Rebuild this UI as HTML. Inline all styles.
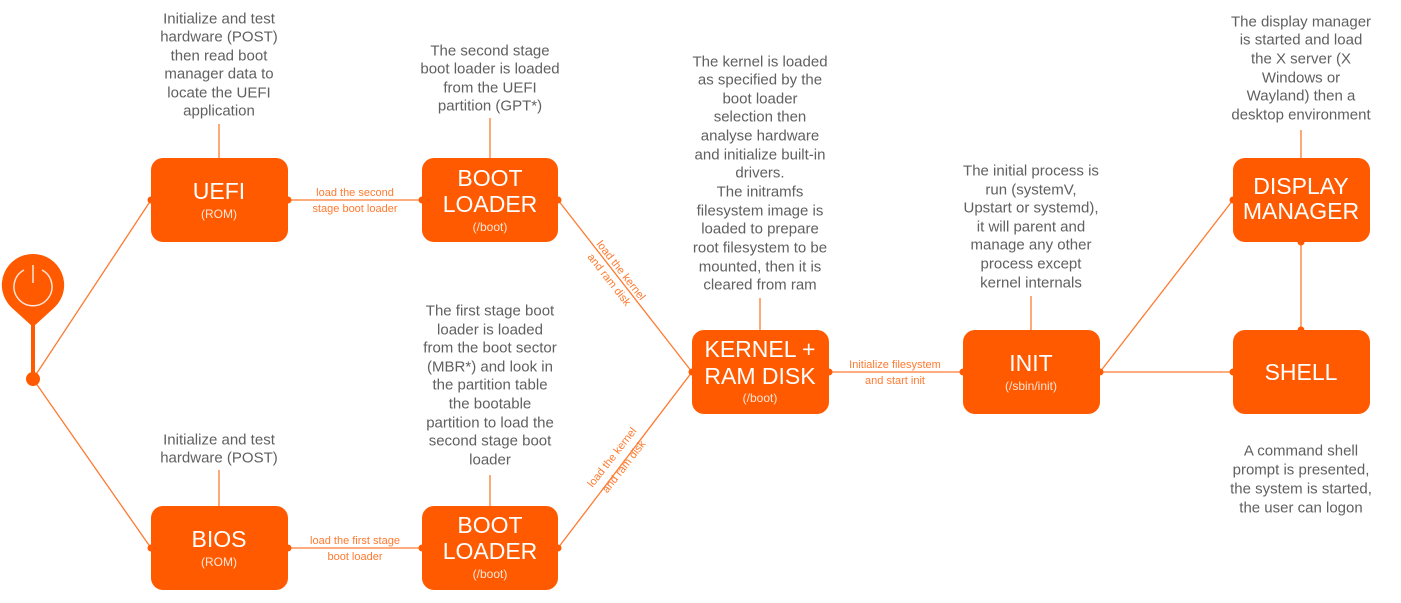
<!DOCTYPE html>
<html><head><meta charset="utf-8"><style>
html,body{margin:0;padding:0;background:#fff;}
svg{display:block;}
.t{font-family:"Liberation Sans",sans-serif;font-size:15px;fill:#606060;text-anchor:middle;dominant-baseline:central;}
.b{font-family:"Liberation Sans",sans-serif;font-size:23px;fill:#fff;text-anchor:middle;dominant-baseline:central;}
.s{font-family:"Liberation Sans",sans-serif;font-size:12px;fill:#ffe6d8;text-anchor:middle;dominant-baseline:central;}
.l{font-family:"Liberation Sans",sans-serif;font-size:11px;fill:#ff7a30;text-anchor:middle;dominant-baseline:central;}
</style></head><body>
<svg width="1401" height="603" viewBox="0 0 1401 603" xmlns="http://www.w3.org/2000/svg">
<g stroke="#ff7a30" stroke-width="1.3" fill="none">
<line x1="33" y1="379" x2="151" y2="200"/>
<line x1="33" y1="379" x2="151" y2="548"/>
<line x1="288" y1="200" x2="422" y2="200"/>
<line x1="288" y1="548" x2="422" y2="548"/>
<line x1="558" y1="200" x2="692" y2="372"/>
<line x1="558" y1="548" x2="692" y2="372"/>
<line x1="829" y1="372" x2="963" y2="372"/>
<line x1="1100" y1="372" x2="1233" y2="372"/>
<line x1="1100" y1="372" x2="1233" y2="200"/>
<line x1="1301" y1="242" x2="1301" y2="330"/>
<line x1="219" y1="124" x2="219" y2="158"/>
<line x1="490" y1="118" x2="490" y2="158"/>
<line x1="760" y1="298" x2="760" y2="330"/>
<line x1="1031" y1="296" x2="1031" y2="330"/>
<line x1="1301" y1="130" x2="1301" y2="158"/>
<line x1="219" y1="470" x2="219" y2="506"/>
<line x1="490" y1="475" x2="490" y2="506"/>
</g>
<g fill="#ff5a00">
<path d="M33,254 a31,31 0 0 1 22,53 L33,327 L11,307 a31,31 0 0 1 22,-53 z"/>
<rect x="31" y="320" width="4" height="60"/>
<circle cx="33" cy="379" r="7"/>
<rect x="151" y="158" width="137" height="84" rx="12"/>
<rect x="422" y="158" width="136" height="84" rx="12"/>
<rect x="151" y="506" width="137" height="84" rx="12"/>
<rect x="422" y="506" width="136" height="84" rx="12"/>
<rect x="692" y="330" width="137" height="84" rx="12"/>
<rect x="963" y="330" width="137" height="84" rx="12"/>
<rect x="1233" y="330" width="137" height="84" rx="12"/>
<rect x="1233" y="158" width="137" height="84" rx="12"/>
<circle cx="151" cy="200" r="3.5"/><circle cx="288" cy="200" r="3.5"/><circle cx="422" cy="200" r="3.5"/><circle cx="558" cy="200" r="3.5"/>
<circle cx="151" cy="548" r="3.5"/><circle cx="288" cy="548" r="3.5"/><circle cx="422" cy="548" r="3.5"/><circle cx="558" cy="548" r="3.5"/>
<circle cx="692" cy="372" r="3.5"/><circle cx="829" cy="372" r="3.5"/><circle cx="963" cy="372" r="3.5"/><circle cx="1100" cy="372" r="3.5"/>
<circle cx="1233" cy="372" r="3.5"/><circle cx="1233" cy="200" r="3.5"/><circle cx="1301" cy="242" r="3.5"/><circle cx="1301" cy="330" r="3.5"/>
</g>
<g stroke="#ffe6d8" stroke-width="1.5" fill="none">
<path d="M24,270 a19,19 0 1 0 18,0"/>
<line x1="33" y1="265" x2="33" y2="283"/>
</g>
<text class="b" x="219" y="191">UEFI</text><text class="s" x="219" y="214">(ROM)</text>
<text class="b" x="490" y="178">BOOT</text><text class="b" x="490" y="204">LOADER</text><text class="s" x="490" y="227">(/boot)</text>
<text class="b" x="219" y="539">BIOS</text><text class="s" x="219" y="562">(ROM)</text>
<text class="b" x="490" y="525">BOOT</text><text class="b" x="490" y="551">LOADER</text><text class="s" x="490" y="574">(/boot)</text>
<text class="b" x="760" y="349">KERNEL +</text><text class="b" x="760" y="376">RAM DISK</text><text class="s" x="760" y="398">(/boot)</text>
<text class="b" x="1031" y="363">INIT</text><text class="s" x="1031" y="386">(/sbin/init)</text>
<text class="b" x="1301" y="372">SHELL</text>
<text class="b" x="1301" y="186">DISPLAY</text><text class="b" x="1301" y="211">MANAGER</text>
<text class="l" x="355" y="193">load the second</text><text class="l" x="355" y="209">stage boot loader</text>
<text class="l" x="355" y="541">load the first stage</text><text class="l" x="355" y="557">boot loader</text>
<text class="l" x="895" y="365">Initialize filesystem</text><text class="l" x="895" y="381">and start init</text>
<g transform="translate(615,275) rotate(52)"><text class="l" x="0" y="-7">load the kernel</text><text class="l" x="0" y="8">and ram disk</text></g>
<g transform="translate(618,462) rotate(-52)"><text class="l" x="0" y="-7">load the kernel</text><text class="l" x="0" y="8">and ram disk</text></g>
<text class="t" x="219" y="19">Initialize and test</text><text class="t" x="219" y="37">hardware (POST)</text><text class="t" x="219" y="56">then read boot</text><text class="t" x="219" y="74">manager data to</text><text class="t" x="219" y="93">locate the UEFI</text><text class="t" x="219" y="111">application</text>
<text class="t" x="490" y="51">The second stage</text><text class="t" x="490" y="69">boot loader is loaded</text><text class="t" x="490" y="88">from the UEFI</text><text class="t" x="490" y="106">partition (GPT*)</text>
<text class="t" x="760" y="62">The kernel is loaded</text><text class="t" x="760" y="80">as specified by the</text><text class="t" x="760" y="99">boot loader</text><text class="t" x="760" y="117">selection then</text><text class="t" x="760" y="136">analyse hardware</text><text class="t" x="760" y="155">and initialize built-in</text><text class="t" x="760" y="173">drivers.</text><text class="t" x="760" y="192">The initramfs</text><text class="t" x="760" y="211">filesystem image is</text><text class="t" x="760" y="229">loaded to prepare</text><text class="t" x="760" y="248">root filesystem to be</text><text class="t" x="760" y="267">mounted, then it is</text><text class="t" x="760" y="285">cleared from ram</text>
<text class="t" x="1031" y="171">The initial process is</text><text class="t" x="1031" y="190">run (systemV,</text><text class="t" x="1031" y="208">Upstart or systemd),</text><text class="t" x="1031" y="227">it will parent and</text><text class="t" x="1031" y="245">manage any other</text><text class="t" x="1031" y="264">process except</text><text class="t" x="1031" y="283">kernel internals</text>
<text class="t" x="1301" y="22">The display manager</text><text class="t" x="1301" y="40">is started and load</text><text class="t" x="1301" y="59">the X server (X</text><text class="t" x="1301" y="78">Windows or</text><text class="t" x="1301" y="96">Wayland) then a</text><text class="t" x="1301" y="115">desktop environment</text>
<text class="t" x="219" y="440">Initialize and test</text><text class="t" x="219" y="458">hardware (POST)</text>
<text class="t" x="490" y="311">The first stage boot</text><text class="t" x="490" y="330">loader is loaded</text><text class="t" x="490" y="348">from the boot sector</text><text class="t" x="490" y="367">(MBR*) and look in</text><text class="t" x="490" y="385">the partition table</text><text class="t" x="490" y="404">the bootable</text><text class="t" x="490" y="423">partition to load the</text><text class="t" x="490" y="441">second stage boot</text><text class="t" x="490" y="460">loader</text>
<text class="t" x="1301" y="451">A command shell</text><text class="t" x="1301" y="470">prompt is presented,</text><text class="t" x="1301" y="489">the system is started,</text><text class="t" x="1301" y="508">the user can logon</text>
</svg>
</body></html>
